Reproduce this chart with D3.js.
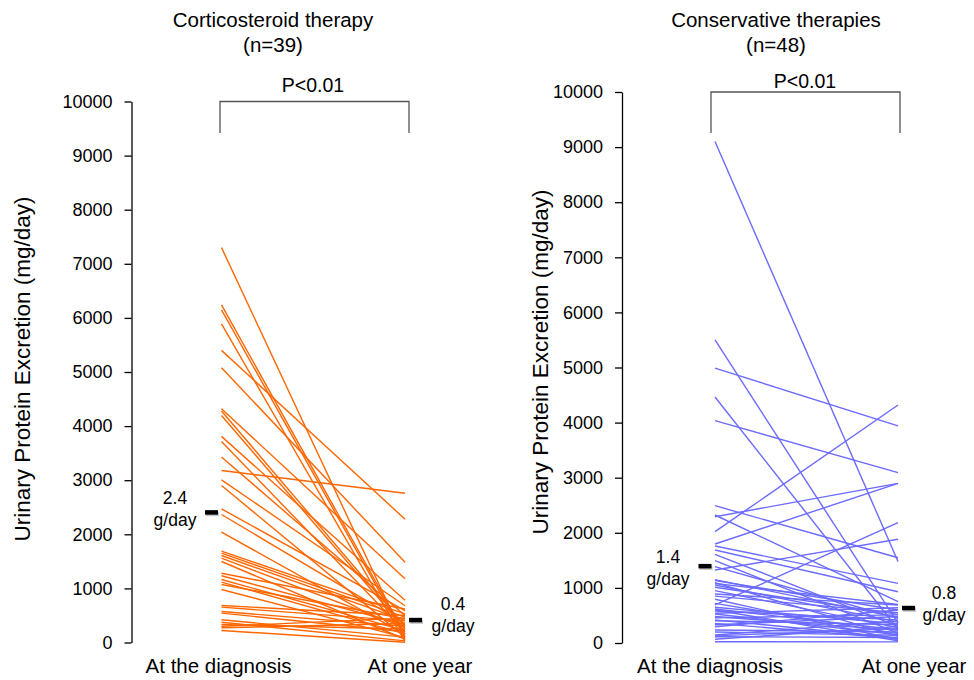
<!DOCTYPE html>
<html>
<head>
<meta charset="utf-8">
<script src="https://cdn.jsdelivr.net/npm/d3@7"></script>
<style>
body { margin: 0; background: #fff; }
text { font-family: "Liberation Sans", Arial, Helvetica, sans-serif; fill: #000; }
</style>
</head>
<body>
<div id="chart"></div>
<script>
// data (mg/day)
var timePoints = ["At the diagnosis", "At one year"];
var yTicks = [0, 1000, 2000, 3000, 4000, 5000, 6000, 7000, 8000, 9000, 10000];

var steroidTitle = ["Corticosteroid therapy", "(n=39)"];
var steroidDiagnosis = [7300, 6240, 6150, 5890, 5400, 5080, 4320, 4280, 4196, 3810, 3715, 3430, 3180,
  3007, 2902, 2471, 2366, 2039, 1688, 1652, 1608, 1558, 1497, 1281, 1233, 1164, 1115, 1072, 980,
  684, 653, 573, 542, 420, 375, 333, 272, 222, 300];
var steroidOneYear = [50, 150, 100, 20, 2280, 1485, 1177, 300, 250, 780, 200, 500, 2760,
  680, 100, 590, 350, 150, 530, 470, 410, 280, 60, 620, 330, 220, 160, 440, 90,
  500, 400, 300, 200, 100, 30, 250, 350, 5, 450];
var steroidMeans = [2400, 410];
var steroidMeanLabels = [["2.4", "g/day"], ["0.4", "g/day"]];

var conservTitle = ["Conservative therapies", "(n=48)"];
var conservDiagnosis = [9100, 5500, 4990, 4465, 4035, 2492, 2323, 2292, 2020, 1797, 1760, 1688,
  1610, 1494, 1385, 1325, 1131, 1095, 1053, 1011, 889, 793, 690, 617, 581, 526, 459, 405, 357,
  296, 236, 145, 114, 67, 24, 1150, 1080, 950, 850, 720, 650, 600, 540, 480, 420, 330, 200, 130];
var conservOneYear = [1480, 360, 3940, 250, 3091, 1548, 750, 2898, 4320, 2898, 1083, 931,
  300, 180, 450, 1882, 600, 120, 380, 520, 690, 60, 2183, 240, 420, 150, 510, 330, 80,
  600, 200, 400, 100, 300, 20, 460, 700, 280, 550, 170, 350, 40, 640, 230, 90, 480, 140, 260];
var conservMeans = [1390, 630];
var conservMeanLabels = [["1.4", "g/day"], ["0.8", "g/day"]];

var pLabel = "P<0.01";
var yAxisTitle = "Urinary Protein Excretion (mg/day)";

var svg = d3.select("#chart")
  .append("svg")
  .attr("width", 974)
  .attr("height", 680);

var panels = [
  {title: steroidTitle, start: steroidDiagnosis, end: steroidOneYear, means: steroidMeans,
   meanLabels: steroidMeanLabels, color: "#ff6600",
   axisX: 131.5, yBottom: 642.5, yTop: 101.5, x0: 221.5, x1: 405,
   titleX: 273, pX: 313, pY: 92, bracketY: 101.5, bracketL: 220, bracketR: 409,
   yLabelX: 22, yLabelY: 369, xLabelDx: [-3, 15],
   labelPos: [[175, -9, 13], [453, -10, 12]]},
  {title: conservTitle, start: conservDiagnosis, end: conservOneYear, means: conservMeans,
   meanLabels: conservMeanLabels, color: "#6b6bff",
   axisX: 622, yBottom: 643, yTop: 92, x0: 715, x1: 898,
   titleX: 776, pX: 805, pY: 88, bracketY: 92, bracketL: 711, bracketR: 900,
   yLabelX: 540, yLabelY: 362, xLabelDx: [-5, 16],
   labelPos: [[668, -3, 19], [944, -9, 13]]}
];

panels.forEach(function(p) {
  var g = svg.append("g");

  var y = d3.scaleLinear()
    .domain([0, 10000])
    .range([p.yBottom, p.yTop]);

  var x = d3.scalePoint()
    .domain(timePoints)
    .range([p.x0, p.x1]);

  // y axis
  var yAxis = g.append("g")
    .attr("transform", "translate(" + p.axisX + ",0)")
    .call(d3.axisLeft(y).tickValues(yTicks).tickFormat(d3.format("d"))
      .tickSize(7).tickSizeOuter(0).tickPadding(12));
  yAxis.selectAll("path, line").attr("stroke", "#000").attr("stroke-width", 1.3);
  yAxis.selectAll("text")
    .style("font-size", "18px")
    .style("font-family", "'Liberation Sans', Arial, sans-serif");

  g.append("text")
    .attr("transform", "translate(" + p.yLabelX + "," + p.yLabelY + ")rotate(-90)")
    .attr("dy", "0.35em")
    .style("text-anchor", "middle")
    .style("font-size", "22.5px")
    .text(yAxisTitle);

  // patient lines
  var pairs = p.start.map(function(d, i) { return [d, p.end[i]]; });
  g.selectAll("line.patient")
    .data(pairs)
    .enter()
    .append("line")
    .attr("class", "patient")
    .attr("x1", x(timePoints[0]))
    .attr("y1", function(d) { return y(d[0]); })
    .attr("x2", x(timePoints[1]))
    .attr("y2", function(d) { return y(d[1]); })
    .attr("stroke", p.color)
    .attr("stroke-width", 1.4);

  // mean markers
  var mx = [x(timePoints[0]) - 16.5, x(timePoints[1]) + 4];
  p.means.forEach(function(m, i) {
    g.append("rect")
      .attr("x", mx[i] + 1)
      .attr("y", y(m) - 1)
      .attr("width", 13)
      .attr("height", 4.5)
      .attr("fill", "#c4c4c4");
    g.append("rect")
      .attr("x", mx[i])
      .attr("y", y(m) - 2.5)
      .attr("width", 13)
      .attr("height", 4.5)
      .attr("fill", "#000");
    g.append("text")
      .attr("x", p.labelPos[i][0])
      .attr("y", y(m) + p.labelPos[i][1])
      .style("text-anchor", "middle")
      .style("font-size", "17.5px")
      .text(p.meanLabels[i][0]);
    g.append("text")
      .attr("x", p.labelPos[i][0])
      .attr("y", y(m) + p.labelPos[i][2])
      .style("text-anchor", "middle")
      .style("font-size", "17.5px")
      .text(p.meanLabels[i][1]);
  });

  // x labels
  timePoints.forEach(function(t, i) {
    g.append("text")
      .attr("x", x(t) + p.xLabelDx[i])
      .attr("y", 673)
      .style("text-anchor", "middle")
      .style("font-size", "20.5px")
      .text(t);
  });

  // titles
  g.append("text")
    .attr("x", p.titleX)
    .attr("y", 27)
    .style("text-anchor", "middle")
    .style("font-size", "20.5px")
    .text(p.title[0]);
  g.append("text")
    .attr("x", p.titleX)
    .attr("y", 52)
    .style("text-anchor", "middle")
    .style("font-size", "20.5px")
    .text(p.title[1]);

  // significance bracket
  g.append("path")
    .attr("d", "M" + p.bracketL + ",133V" + p.bracketY + "H" + p.bracketR + "V133")
    .attr("fill", "none")
    .attr("stroke", "#555")
    .attr("stroke-width", 1.3);
  g.append("text")
    .attr("x", p.pX)
    .attr("y", p.pY)
    .style("text-anchor", "middle")
    .style("font-size", "19.5px")
    .text(pLabel);
});
</script>
</body>
</html>
